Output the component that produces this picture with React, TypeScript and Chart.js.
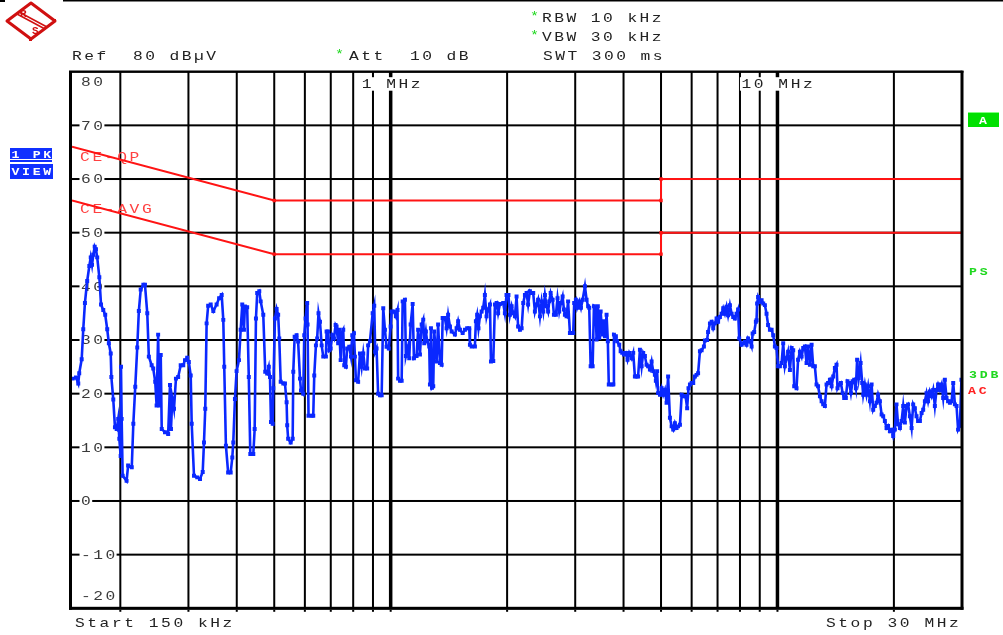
import { useEffect, useRef } from "react";
import { Chart, registerables } from "chart.js";

Chart.register(...registerables);

// ---- data (frequency in kHz, level in dBµV) ----
const traceFreqKHz = [
  150.6, 153.6, 155.7, 156.6, 158.9, 160.4, 162, 164.2, 166.3, 167.7, 169, 170.3, 171.7, 173, 174.3, 176.5,
  178.3, 180.7, 182.8, 185, 186.8, 188.9, 189.6, 191.8, 193.7, 195.7, 197.5, 198.8, 200.4, 200.8, 201.6, 202.8,
  207.6, 209.5, 214.1, 216.1, 218.6, 221.2, 223.3, 225.8, 229.4, 231.6, 234.8, 237, 241, 243.3, 246.2, 248.2,
  250.5, 252.2, 254.4, 255.9, 260.9, 265.9, 268.8, 270.4, 272.5, 275.3, 278.5, 282.2, 286.5, 290.9, 293.9, 297.8,
  300.7, 304.1, 305.9, 310.1, 316.1, 321.4, 326.6, 329.1, 331.6, 334.3, 337.4, 342.5, 347.9, 354.8, 360.1, 365.7,
  369.2, 371.3, 375, 380, 385.8, 389.5, 391.8, 395.7, 399.6, 405.3, 409.4, 413.3, 417.5, 419.9, 425.6, 429.7,
  433.6, 441.4, 445, 448.4, 451.8, 457.4, 461.2, 468.4, 473.9, 479.4, 484.1, 487.5, 490.4, 495.4, 497.2, 502.1,
  507.1, 511.8, 515.2, 519.6, 527.6, 532.9, 538.2, 540.1, 543.2, 551.4, 558, 560, 564.6, 571.2, 576.4, 582.8,
  586.3, 594.3, 597.8, 602.7, 608.3, 609.7, 613.2, 624.8, 630.7, 634.5, 640.8, 645.6, 650.8, 656.4, 663.1, 669.4,
  680, 682.8, 689.1, 693.8, 699.6, 706.3, 713.4, 720.5, 724.7, 731.4, 736.3, 742.5, 746.9, 754, 758.5, 766,
  771.8, 781.5, 789.5, 795.6, 803.6, 808.3, 813, 823.9, 832.9, 841.4, 849.4, 857.9, 869.4, 874.4, 884, 898.3,
  906.8, 912.1, 919.5, 928, 938.2, 947.8, 956.8, 966.3, 975.9, 988.9, 999.9, 1005.9, 1019.6, 1031.5, 1041.7, 1045.3,
  1056.8, 1067.6, 1073.9, 1088.5, 1094.8, 1109.4, 1116.9, 1126.3, 1139.8, 1148.5, 1166.7, 1177.5, 1190.4, 1202.5, 1214, 1221.1,
  1233.3, 1242.5, 1258.1, 1263.4, 1271, 1278.6, 1288.4, 1296, 1314.2, 1326.3, 1340.9, 1354.6, 1362.6, 1381.1, 1394.8, 1407.7,
  1423.2, 1437.7, 1465.9, 1480.4, 1494.1, 1510.5, 1535, 1555.8, 1576.7, 1596.3, 1603, 1619.4, 1651.1, 1660.7, 1673.2, 1686.7,
  1701, 1718.3, 1734.7, 1752, 1769.4, 1785.7, 1806, 1816.8, 1841.8, 1860.2, 1878.6, 1895.9, 1916, 1953.9, 1973.5, 1993,
  2016, 2034, 2054.7, 2074.3, 2095, 2115.8, 2135.3, 2159, 2181, 2201.7, 2223.8, 2245.8, 2266.5, 2291, 2314.4, 2336.4,
  2359.7, 2383.1, 2405.1, 2432, 2456.8, 2480.2, 2505, 2529.8, 2553.1, 2570.2, 2591.8, 2622.8, 2642.9, 2673.9, 2700.2, 2727.5,
  2755.4, 2783.4, 2804.7, 2821.2, 2849.1, 2875.4, 2907, 2936.7, 2964.6, 2982, 3011.7, 3034.3, 3073, 3104.5, 3136, 3178.6,
  3210, 3239.7, 3261.2, 3288.8, 3328, 3353.6, 3387, 3406.7, 3432.2, 3461.4, 3490.6, 3524, 3553.2, 3580.3, 3615.7, 3642.8,
  3663.7, 3726.6, 3762, 3777.5, 3821.8, 3850.6, 3898.6, 3931.4, 3969, 4009, 4056, 4095.9, 4137.5, 4197.4, 4237.3, 4279.7,
  4322, 4361.9, 4410, 4455, 4497.3, 4542.3, 4587.3, 4629.6, 4680, 4727.7, 4772.7, 4820.4, 4848.5, 4885, 4913, 4968,
  5018.7, 5066.4, 5117, 5167.7, 5215.4, 5272, 5325.8, 5376.4, 5430.2, 5483.9, 5534.5, 5596, 5653.1, 5730.3, 5787.4, 5841.1,
  5888.1, 5939, 5999.6, 6056.6, 6117.2, 6177.8, 6234.8, 6303, 6367.3, 6454.3, 6492.1, 6579.1, 6616.9, 6690, 6758.2, 6822.5,
  6890.7, 6958.9, 7023.2, 7100, 7172.4, 7240.6, 7313, 7385.4, 7453.6, 7535, 7611.9, 7684.2, 7761.1, 7837.9, 7910.2, 7963.4,
  8078.6, 8155.3, 8236.9, 8318.5, 8395.2, 8488, 8574.6, 8625.5, 8707, 8793.6, 8829.2, 8859.8, 8910.7, 9009, 9100.9, 9187.4,
  9279.3, 9371.2, 9457.6, 9561, 9658.5, 9750.3, 9847.8, 9945.4, 10037, 10147, 10250, 10348, 10451, 10555, 10652, 10770,
  10880, 10983, 11048, 11203, 11306, 11430, 11547, 11656, 11773, 11890, 11999, 12131, 12255, 12371, 12495, 12619,
  12735, 12875, 13006, 13130, 13261, 13393, 13516, 13665, 13804, 13936, 14075, 14214, 14296, 14442, 14590, 14738,
  14877, 15025, 15173, 15328, 15485, 15642, 15790, 15947, 16067, 16224, 16406, 16563, 16661, 16827, 16994, 17151,
  17339, 17516, 17682, 17859, 18036, 18203, 18402, 18590, 18766, 18954, 19142, 19318, 19530, 19729, 19917, 20116,
  20315, 20503, 20730, 20941, 21140, 21352, 21563, 21762, 22000, 22224, 22436, 22660, 22884, 23096, 23350, 23588,
  23812, 24051, 24289, 24513, 24780, 25033, 25271, 25523, 25776, 26014, 26300, 26568, 26821, 27089, 27357, 27610,
  27920, 28205, 28473, 28758, 29042, 29310, 29630, 29900,
];

const traceLevel = [
  22.8, 23, 21.9, 23.8, 26.4, 32, 36.9, 41, 43.8, 45.4, 44, 45.9, 47.4, 46.9, 45.4, 41.7,
  36.6, 35.6, 34.7, 32, 29.4, 27.5, 23.1, 18.9, 13.75, 13.4, 15.3, 11.6, 8.4, 25, 15.3, 4.7,
  3.75, 6.6, 6.3, 14.4, 21.3, 28.6, 35.4, 39.4, 40.3, 40.3, 35, 26.9, 25.3, 24.7, 22.2, 17.8,
  31, 17.8, 27.2, 13.4, 12.8, 12.5, 21.6, 13.4, 19.1, 17.2, 22.8, 23.1, 25.3, 25.3, 26.25, 26.7,
  25.9, 23.4, 14.4, 4.7, 4.4, 4.1, 5.4, 10.9, 17.2, 33.1, 36.4, 36.6, 35.4, 36.6, 37.8, 38.4,
  33.75, 25, 10.3, 5.3, 5.3, 8.1, 10.9, 19, 24.2, 26.25, 31.9, 36.6, 31.9, 36.25, 36.1, 23.1,
  8.75, 8.75, 13.4, 34, 38.75, 39.1, 37.2, 34.7, 24.1, 23.75, 25, 23.1, 14.7, 14.4, 21, 34,
  35.8, 34.7, 30.3, 22.2, 21.9, 21.9, 18.4, 14.1, 11.6, 10.9, 11.6, 24.1, 30.6, 30.9, 29.7, 22.8,
  20.6, 20, 30.9, 34, 36.9, 32.9, 15.9, 15.9, 15.9, 23.4, 29, 30.3, 35, 33.4, 29, 26.9,
  26.9, 31.6, 31.6, 28.1, 28.4, 30.9, 30.3, 32.8, 32.5, 29.4, 31.9, 26.25, 31.25, 31.9, 25.3, 25,
  28.4, 28.75, 26.9, 30.9, 31.25, 26.9, 22.5, 22.2, 27.5, 25, 27.5, 24.7, 24.7, 29, 29.8, 35,
  36.4, 27.8, 28.4, 20, 19.7, 19.7, 35.9, 31.9, 28.75, 28.4, 32.5, 35.3, 35.3, 34.4, 35.6, 22.8,
  22.4, 22.4, 37.2, 37.5, 27, 28.8, 26.6, 32.9, 36.7, 26.6, 27, 31.9, 27.3, 32.9, 33.8, 29.4,
  31.6, 29.75, 28.8, 21.7, 32.2, 21.1, 21.4, 31.6, 26, 32.9, 25.7, 25.4, 34.1, 34.1, 32.2, 34.7,
  32.5, 31.6, 31, 32.2, 33.5, 31.9, 31.3, 31.9, 32.2, 32.2, 29.1, 28.8, 28.8, 33.5, 34.7, 32.2,
  34.4, 35.3, 36, 38.4, 34.4, 35.7, 36.6, 26, 26.1, 36.6, 36.9, 35, 36.7, 36.9, 35, 38.4,
  38.4, 34.7, 36.3, 35, 34.4, 38.1, 32.5, 31.9, 32.2, 36.9, 38.4, 38.75, 36.6, 39.1, 38.75, 38.75,
  35.3, 36.6, 37.5, 34.4, 37.2, 35.3, 38.4, 36.3, 35.3, 37.2, 38.75, 37.5, 34.7, 34.7, 37.8, 35.3,
  36.9, 38.1, 35.7, 34.7, 34.4, 37.2, 31.3, 31.3, 31.3, 36.9, 37.5, 36, 37.2, 36, 37.5, 40,
  37.5, 36.3, 36, 25.1, 25.1, 36.3, 36, 30.1, 36.3, 30.4, 35.3, 31, 33.5, 30.7, 34.7, 29.75,
  21.7, 21.7, 21.7, 31, 30.7, 29.75, 29.1, 27.9, 27.6, 27.3, 27.6, 26.3, 27.6, 26.6, 27.6, 23.2,
  23.2, 23.2, 28.2, 25.1, 27.6, 27, 25.4, 25.1, 24.5, 26, 24.2, 23.5, 22.4, 24.2, 20.1, 19.8,
  21, 19.8, 20.7, 18.3, 23.2, 15.5, 13.9, 13.3, 14.5, 13.6, 13.9, 14.2, 19.8, 19.5, 19.5, 17.3,
  21, 21.7, 22, 22, 23.2, 23.5, 23.8, 27.9, 28.1, 28.8, 29.9, 30, 31.5, 33.1, 33.4, 32.2,
  33.1, 34, 33.4, 34.3, 34.9, 35.9, 34.9, 36.2, 34.6, 36.5, 34.9, 34.3, 34, 34.9, 35.7, 30.3,
  29.1, 29.4, 29.7, 29.1, 30.3, 29.7, 28.8, 31.2, 31.5, 33.4, 33.7, 36.8, 38, 37.1, 37.4, 36.8,
  36.5, 34.9, 32.8, 31.9, 31.9, 30.9, 28.8, 28.5, 25.1, 25.1, 25.7, 29.4, 25.1, 26.6, 27.8, 24.4,
  28.5, 28.1, 21.4, 21, 26.3, 27.8, 26.9, 28.5, 28.8, 25.7, 28.8, 25.4, 29.1, 25.1, 25.1, 21.7,
  21.4, 19.5, 18.6, 18, 17.7, 21.7, 22, 22.6, 21.4, 23.2, 24.8, 25.4, 21, 21.7, 22, 20.1,
  19.2, 19.2, 22.3, 22, 20.1, 22.3, 22.6, 21, 26.3, 22.9, 25.7, 22, 19.8, 21.7, 19.8, 21.4,
  18.6, 21.7, 17, 17.7, 18.3, 19.8, 18.6, 16.1, 15.8, 14.9, 13.6, 14, 13, 13.3, 12.1, 13.3,
  18, 14.3, 13.6, 14.9, 17.7, 14.6, 17.7, 18, 15.8, 13.6, 18, 17.3, 15.8, 14.9, 14.9, 16.4,
  17, 18.6, 20.1, 18.6, 20.4, 19.5, 20.7, 17.7, 20.7, 21.7, 20.7, 21.7, 19.2, 22.6, 19.2, 18.6,
  18.3, 18.6, 22, 18, 17.7, 13.3, 14, 22.6,
];

// CISPR 22 class B limit lines
const qpFreqKHz = [150, 500, 5000, 5000, 30000];
const qpLevel = [66, 56, 56, 60, 60];
const avgFreqKHz = [150, 500, 5000, 5000, 30000];
const avgLevel = [56, 46, 46, 50, 50];

// axes
const levelTicks = [80, 70, 60, 50, 40, 30, 20, 10, 0, -10, -20];
const levelTickLabels = ["80", "70", "60", "50", "40", "30", "20", "10", "0", "-10", "-20"];
const freqGridKHz = [200, 300, 400, 500, 600, 700, 800, 900, 1000, 2000, 3000, 4000, 5000, 6000, 7000, 8000, 9000, 10000, 20000];
const freqMajorKHz = [1000, 10000];
const freqMajorLabels = ["1 MHz", "10 MHz"];

const TRACE = "#0a28ff";
const LIMIT = "#ff1414";
const GREEN = "#1fd81f";
const FONT = '"Liberation Mono", "DejaVu Sans Mono", monospace';

function mono(
  ctx: CanvasRenderingContext2D,
  text: string,
  x: number,
  y: number,
  color: string,
  pitch = 12.3,
  size = 13,
  bold = false,
  sx = 1.25
) {
  ctx.save();
  ctx.fillStyle = color;
  ctx.font = `${bold ? "bold " : ""}${size}px ${FONT}`;
  ctx.textBaseline = "alphabetic";
  ctx.textAlign = "left";
  for (let i = 0; i < text.length; i++) {
    const ch = text[i];
    if (ch === " ") continue;
    ctx.save();
    ctx.translate(x + i * pitch, y);
    ctx.scale(sx, 1);
    ctx.fillText(ch, 0, 0);
    ctx.restore();
  }
  ctx.restore();
}

function drawLogo(ctx: CanvasRenderingContext2D) {
  ctx.save();
  ctx.strokeStyle = "#d01010";
  ctx.fillStyle = "#d01010";
  ctx.lineWidth = 3;
  ctx.lineJoin = "round";
  ctx.beginPath();
  ctx.moveTo(7, 21);
  ctx.lineTo(31, 3);
  ctx.lineTo(55, 21);
  ctx.lineTo(31, 39);
  ctx.closePath();
  ctx.stroke();
  ctx.lineWidth = 1.5;
  ctx.beginPath();
  ctx.moveTo(17, 14);
  ctx.lineTo(45, 29);
  ctx.moveTo(19, 12);
  ctx.lineTo(47, 27);
  ctx.stroke();
  ctx.font = `bold 11px ${FONT}`;
  ctx.fillText("R", 20, 17);
  ctx.fillText("S", 32, 34);
  ctx.fillRect(29, 38, 3, 3);
  ctx.fillRect(53, 19, 3, 3);
  ctx.restore();
}

const backPlugin = {
  id: "specBack",
  beforeDatasetsDraw(chart: any) {
    const ctx: CanvasRenderingContext2D = chart.ctx;
    const xs = chart.scales.x;
    const ys = chart.scales.y;
    const { left, right, top, bottom } = chart.chartArea;
    ctx.save();
    ctx.fillStyle = "#000";
    levelTicks.forEach((v) => {
      const py = ys.getPixelForValue(v);
      ctx.fillRect(left, py - 1, right - left, 2);
    });
    freqGridKHz.forEach((f) => {
      const px = xs.getPixelForValue(f);
      const w = freqMajorKHz.includes(f) ? 3.5 : 2;
      ctx.fillRect(px - w / 2, top, w, bottom - top);
    });
    levelTicks.forEach((v, i) => {
      const py = ys.getPixelForValue(v);
      const lab = levelTickLabels[i];
      let base = py + 4.3;
      if (i === 0) base = py + 14.5;
      if (i === levelTicks.length - 1) base = py - 8.8;
      if (i !== 0 && i !== levelTicks.length - 1) {
        ctx.fillStyle = "#fff";
        ctx.fillRect(79.5, py - 5, 12.2 * lab.length + 0.5, 10);
      }
      mono(ctx, lab, 81, base, "#3a3a3a", 12.2);
    });
    freqMajorKHz.forEach((f, i) => {
      const px = xs.getPixelForValue(f);
      const lab = freqMajorLabels[i];
      const x0 = i === 0 ? px - 29 : px - 36;
      ctx.fillStyle = "#fff";
      ctx.fillRect(x0 - 1.5, top + 5.5, lab.length * 12.3 + 2, 13.5);
      mono(ctx, lab, x0, top + 16.5, "#222", 12.3);
    });
    mono(ctx, "CE-QP", 80, 161, "#ff4040", 12.4);
    mono(ctx, "CE-AVG", 80, 213, "#ff4040", 12.4);
    ctx.restore();
  },
  afterDatasetsDraw(chart: any) {
    const ctx: CanvasRenderingContext2D = chart.ctx;
    const xs = chart.scales.x;
    const { left, right, top, bottom } = chart.chartArea;
    ctx.save();
    ctx.fillStyle = "#000";
    ctx.fillRect(left - 3, top - 1, right - left + 4.5, 2);
    ctx.fillRect(left - 3, top - 1, 3, bottom - top + 2.5);
    ctx.fillRect(right - 1.5, top - 1, 3, bottom - top + 2.5);
    ctx.fillRect(left - 3, bottom - 1.5, right - left + 4.5, 3);
    freqGridKHz.forEach((f) => {
      const px = xs.getPixelForValue(f);
      ctx.fillRect(px - 1, bottom + 1.5, 2, 2);
    });
    ctx.fillRect(63, 0, 940, 1.5);
    ctx.fillRect(0, 0, 5, 2);

    mono(ctx, "Ref  80 dBµV", 72, 60, "#222", 12.2);
    mono(ctx, "*", 335, 58, GREEN, 12.2, 12);
    mono(ctx, "Att  10 dB", 349, 60, "#222", 12.2);
    mono(ctx, "*", 530, 20, GREEN, 12.2, 12);
    mono(ctx, "RBW 10 kHz", 542, 22, "#222", 12.2);
    mono(ctx, "*", 530, 39, GREEN, 12.2, 12);
    mono(ctx, "VBW 30 kHz", 542, 40.5, "#222", 12.2);
    mono(ctx, "SWT 300 ms", 543, 60, "#222", 12.2);
    mono(ctx, "Start 150 kHz", 75, 627, "#222", 12.3);
    mono(ctx, "Stop 30 MHz", 826, 627, "#222", 12.3);

    ctx.fillStyle = "#1030ff";
    ctx.fillRect(10, 148, 42, 14);
    ctx.fillRect(10, 164, 43, 15);
    ctx.fillStyle = "#fff";
    ctx.fillRect(10, 159, 42, 1);
    ctx.fillRect(10, 163, 43, 1);
    mono(ctx, "1 PK", 11.5, 158, "#fff", 10.6, 11, true, 1.2);
    mono(ctx, "VIEW", 11.5, 175, "#fff", 10.6, 11, true, 1.2);

    ctx.fillStyle = "#00e000";
    ctx.fillRect(968, 112, 31, 15);
    ctx.fillStyle = "#80ff80";
    ctx.fillRect(968, 112, 31, 1);
    mono(ctx, "A", 979, 124, "#fff", 10, 11, true, 1.2);
    mono(ctx, "PS", 969, 275, GREEN, 10.8, 11, true, 1.2);
    mono(ctx, "3DB", 969, 377.5, GREEN, 10.8, 11, true, 1.2);
    mono(ctx, "AC", 968, 393.5, "#ff2020", 10.8, 11, true, 1.2);

    drawLogo(ctx);
    ctx.restore();
  },
};

export default function App() {
  const ref = useRef<HTMLCanvasElement>(null);
  useEffect(() => {
    const canvas = ref.current;
    if (!canvas) return;
    const chart = new Chart(canvas, {
      type: "line",
      data: {
        datasets: [
          {
            data: traceFreqKHz.map((f, i) => ({ x: f, y: traceLevel[i] })),
            borderColor: TRACE,
            backgroundColor: TRACE,
            borderWidth: 2.6,
            pointStyle: "rect",
            pointRadius: 2.8,
            pointBorderWidth: 0,
            pointBackgroundColor: TRACE,
            tension: 0,
          },
          {
            data: qpFreqKHz.map((f, i) => ({ x: f, y: qpLevel[i] })),
            borderColor: LIMIT,
            backgroundColor: LIMIT,
            borderWidth: 2,
            pointStyle: "rect",
            pointRadius: [0, 2.4, 2.4, 2.4, 0],
            pointBorderWidth: 0,
            pointBackgroundColor: LIMIT,
            tension: 0,
          },
          {
            data: avgFreqKHz.map((f, i) => ({ x: f, y: avgLevel[i] })),
            borderColor: LIMIT,
            backgroundColor: LIMIT,
            borderWidth: 2,
            pointStyle: "rect",
            pointRadius: [0, 2.4, 2.4, 2.4, 0],
            pointBorderWidth: 0,
            pointBackgroundColor: LIMIT,
            tension: 0,
          },
        ],
      },
      options: {
        responsive: false,
        animation: false,
        devicePixelRatio: 1,
        events: [],
        layout: { padding: { left: 72, right: 41, top: 71.7, bottom: 26.7 } },
        scales: {
          x: { type: "logarithmic", min: 150, max: 30000, display: false },
          y: { type: "linear", min: -20, max: 80, display: false },
        },
        plugins: {
          legend: { display: false },
          tooltip: { enabled: false },
        },
      },
      plugins: [backPlugin],
    } as any);
    return () => chart.destroy();
  }, []);
  return (
    <div style={{ position: "absolute", left: 0, top: 0, width: 1003, height: 635, background: "#fff" }}>
      <canvas ref={ref} width={1003} height={635} style={{ display: "block", width: 1003, height: 635 }} />
    </div>
  );
}
